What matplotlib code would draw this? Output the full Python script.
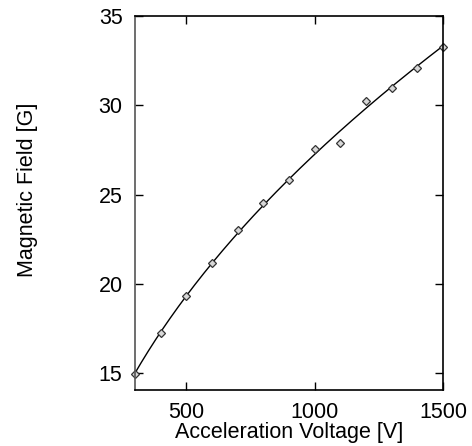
import numpy as np
import matplotlib
matplotlib.use("Agg")
import matplotlib.pyplot as plt

voltage = [300, 400, 500, 600, 700, 800, 900, 1000, 1100, 1200, 1300, 1400, 1500]
field = [14.94, 17.26, 19.33, 21.18, 23.01, 24.51, 25.81, 27.55, 27.90, 30.26, 30.98, 32.07, 33.28]

plt.rcParams['font.family'] = ['Liberation Sans', 'DejaVu Sans']

fig = plt.figure(figsize=(4.72, 4.46), dpi=100)
ax = fig.add_axes([135/472, 1-390/446, (443-135)/472, (390-16)/446])

V = np.array(voltage, dtype=float)
B = np.array(field, dtype=float)
# power-law fit B = a * V^b
b, loga = np.polyfit(np.log(V), np.log(B), 1)
vf = np.linspace(300, 1500, 300)
ax.plot(vf, np.exp(loga) * vf**b, color='black', lw=1.0)
ax.plot(V, B, linestyle='none', marker='D', markersize=3.8, markerfacecolor='#d8d8d8',
        markeredgecolor='#333333', markeredgewidth=0.9, clip_on=False)

ax.set_xlim(300, 1500)
ax.set_ylim(14.05, 35)
ax.set_xticks([500, 1000, 1500])
ax.set_yticks([15, 20, 25, 30, 35])
ax.tick_params(direction='in', length=6, width=1, top=True, right=True, labelsize=15.5)
ax.tick_params(axis='y', pad=9)
ax.tick_params(axis='x', pad=9)
for s in ax.spines.values():
    s.set_linewidth(1.2)
ax.spines['left'].set_color('#555555')
ax.set_xlabel('Acceleration Voltage [V]', fontsize=15.5, labelpad=-1)
ax.set_ylabel('Magnetic Field [G]', fontsize=15.5)
ax.yaxis.set_label_coords(-0.315, 0.535)

fig.savefig('out.png', dpi=100)
